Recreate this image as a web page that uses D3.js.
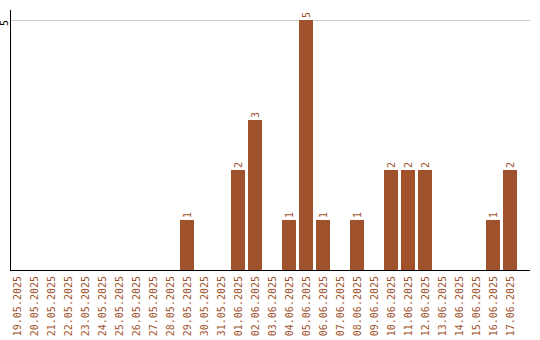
<!DOCTYPE html>
<html><head><meta charset="utf-8">
<script src="https://cdn.jsdelivr.net/npm/d3@7"></script>
<style>
html,body{margin:0;padding:0;background:#fff;}
svg text{font-family:"DejaVu Sans Mono",monospace;font-size:10px;}
</style></head>
<body><svg id="c" width="540" height="340"></svg>
<script>
const categories = ["19.05.2025","20.05.2025","21.05.2025","22.05.2025","23.05.2025","24.05.2025","25.05.2025","26.05.2025","27.05.2025","28.05.2025","29.05.2025","30.05.2025","31.05.2025","01.06.2025","02.06.2025","03.06.2025","04.06.2025","05.06.2025","06.06.2025","07.06.2025","08.06.2025","09.06.2025","10.06.2025","11.06.2025","12.06.2025","13.06.2025","14.06.2025","15.06.2025","16.06.2025","17.06.2025"];
const values = [0,0,0,0,0,0,0,0,0,0,1,0,0,2,3,0,1,5,1,0,1,0,2,2,2,0,0,0,1,2];
const yTicks = [5];

const color = "#a0522d";
const svg = d3.select("#c");
const x = d3.scaleBand().domain(categories).range([10, 517]).paddingInner(3/17).paddingOuter(0);
const y = d3.scaleLinear().domain([0, 5]).range([270, 20]);

// gridlines
svg.append("g").selectAll("line").data(yTicks).join("line")
  .attr("x1", 11).attr("x2", 530)
  .attr("y1", d => y(d) + 0.5).attr("y2", d => y(d) + 0.5)
  .attr("stroke", "#cccccc").attr("stroke-width", 1);

// y tick labels
svg.append("g").selectAll("text").data(yTicks).join("text")
  .attr("transform", d => `translate(4.5,${y(d) + 3}) rotate(-90)`)
  .attr("text-anchor", "middle").attr("dy", "0.35em")
  .attr("fill", "#000").text(d => d);

// bars
const data = categories.map((c, i) => ({c, v: values[i]})).filter(d => d.v > 0);
svg.append("g").selectAll("rect").data(data).join("rect")
  .attr("x", d => x(d.c)).attr("width", x.bandwidth())
  .attr("y", d => y(d.v)).attr("height", d => y(0) - y(d.v))
  .attr("fill", color).attr("shape-rendering", "crispEdges");

// value labels
svg.append("g").selectAll("text").data(data).join("text")
  .attr("transform", d => `translate(${x(d.c) + x.bandwidth()/2},${y(d.v) - 2}) rotate(-90)`)
  .attr("text-anchor", "start").attr("dy", "0.35em")
  .attr("fill", color).text(d => d.v);

// axes lines
svg.append("line").attr("x1", 10.5).attr("x2", 10.5).attr("y1", 10).attr("y2", 271)
  .attr("stroke", "#000").attr("stroke-width", 1);
svg.append("line").attr("x1", 10).attr("x2", 530).attr("y1", 270.5).attr("y2", 270.5)
  .attr("stroke", "#000").attr("stroke-width", 1);

// x tick labels
svg.append("g").selectAll("text").data(categories).join("text")
  .attr("transform", d => `translate(${x(d) + x.bandwidth()/2},276) rotate(-90)`)
  .attr("text-anchor", "end").attr("dy", "0.35em")
  .attr("fill", color).text(d => d);
</script></body></html>
